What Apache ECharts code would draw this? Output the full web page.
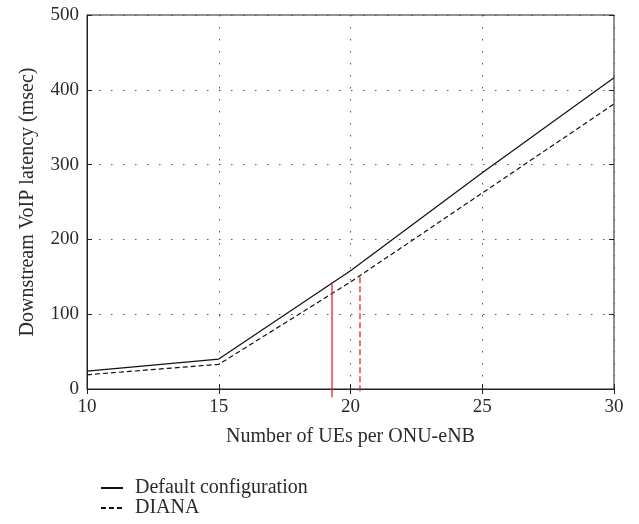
<!DOCTYPE html>
<html>
<head>
<meta charset="utf-8">
<script src="https://cdn.jsdelivr.net/npm/echarts@6/dist/echarts.min.js"></script>
<style>
  html, body { margin: 0; padding: 0; background: #fff; }
  #chart { width: 639px; height: 524px; }
</style>
</head>
<body>
<div id="chart"></div>
<script>
// UEs per ONU-eNB
var ues = [10, 15, 20, 25, 30];
// latency (msec)
var defaultCfg = [24, 40, 158, 289, 416];
var diana = [19, 33, 143, 262, 381];
// red markers (threshold crossings)
var redSolid = [[19.3, -11], [19.3, 143]];
var redDashed = [[20.36, -3], [20.36, 152]];

var font = 'Liberation Serif';
var chart = echarts.init(document.getElementById('chart'));

var pairs = function (ys) {
    return ues.map(function (x, i) { return [x, ys[i]]; });
};

var option = {
    animation: false,
    textStyle: { fontFamily: font, color: '#2a2a2a' },
    grid: {
        left: 87, right: 25, top: 15, bottom: 135,
        show: true, borderColor: '#222', borderWidth: 1
    },
    legend: {
        orient: 'vertical',
        left: 100, top: 478, padding: 0,
        itemWidth: 22, itemHeight: 10, itemGap: 0,
        data: ['Default configuration', 'DIANA'],
        itemStyle: { opacity: 0 },
        textStyle: { fontFamily: font, fontSize: 20, lineHeight: 20, color: '#2a2a2a', padding: [0, 0, 0, 7] }
    },
    xAxis: [{
        type: 'value', min: 10, max: 30, interval: 5,
        name: 'Number of UEs per ONU-eNB',
        nameLocation: 'middle', nameGap: 38,
        nameTextStyle: { fontFamily: font, fontSize: 20, color: '#2a2a2a' },
        axisLine: { lineStyle: { color: '#222' } },
        axisTick: { inside: true, length: 5, lineStyle: { color: '#222' } },
        axisLabel: { fontFamily: font, fontSize: 19, color: '#2a2a2a', margin: 9 },
        splitLine: { show: true, lineStyle: { color: '#555', type: [1.5, 10.5] } }
    }, {
        type: 'value', min: 10, max: 30, interval: 5, position: 'top',
        axisLine: { show: false },
        axisTick: { inside: true, length: 5, lineStyle: { color: '#222' } },
        axisLabel: { show: false },
        splitLine: { show: false }
    }],
    yAxis: [{
        type: 'value', min: 0, max: 500, interval: 100,
        name: 'Downstream VoIP latency (msec)',
        nameLocation: 'middle', nameGap: 49,
        nameTextStyle: { fontFamily: font, fontSize: 20, color: '#2a2a2a' },
        axisLine: { show: true, lineStyle: { color: '#222' } },
        axisTick: { show: true, inside: true, length: 5, lineStyle: { color: '#222' } },
        axisLabel: { fontFamily: font, fontSize: 19, color: '#2a2a2a', margin: 8 },
        splitLine: { show: true, lineStyle: { color: '#555', type: [1.5, 10.5] } }
    }, {
        type: 'value', min: 0, max: 500, interval: 100, position: 'right',
        axisLine: { show: false },
        axisTick: { show: true, inside: true, length: 5, lineStyle: { color: '#222' } },
        axisLabel: { show: false },
        splitLine: { show: false }
    }],
    series: [{
        name: 'Default configuration',
        type: 'line',
        symbol: 'none',
        data: pairs(defaultCfg),
        lineStyle: { color: '#111', width: 1.2 },
        itemStyle: { color: '#111' }
    }, {
        name: 'DIANA',
        type: 'line',
        symbol: 'none',
        data: pairs(diana),
        lineStyle: { color: '#111', width: 1.2, type: [5, 3] },
        itemStyle: { color: '#111' }
    }, {
        name: 'redSolid',
        type: 'line',
        symbol: 'none',
        clip: false,
        data: redSolid,
        lineStyle: { color: '#e8242a', width: 1.3 }
    }, {
        name: 'redDashed',
        type: 'line',
        symbol: 'none',
        clip: false,
        data: redDashed,
        lineStyle: { color: '#e8242a', width: 1.3, type: [6, 3] }
    }]
};

chart.setOption(option);
</script>
</body>
</html>
